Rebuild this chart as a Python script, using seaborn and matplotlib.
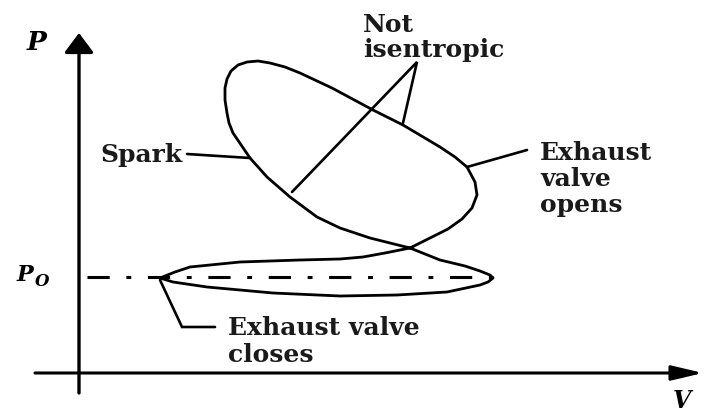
import matplotlib
matplotlib.use("Agg")
import matplotlib.pyplot as plt
import seaborn as sns
import pandas as pd

# Otto cycle P-V sketch (V, P in drawing units)
cycle_v = [81, 96, 111, 161, 221, 261, 284, 306, 331, 351, 369, 383, 393, 398, 396, 388,
           376, 361, 324, 294, 253, 221, 206, 191, 179, 168, 159, 152, 148, 146, 146, 148,
           150, 154, 171, 188, 211, 238, 261, 291, 331, 361, 386, 401, 411, 414, 409, 401,
           368, 318, 261, 194, 128, 94, 81]
cycle_p = [95, 101, 106, 111, 113, 114, 116, 120, 125, 135, 144, 154, 165, 178, 191, 206,
           216, 226, 248, 263, 285, 300, 306, 310, 312, 311, 308, 302, 294, 285, 273, 260,
           250, 240, 215, 196, 176, 156, 145, 135, 125, 113, 107, 102, 98, 95, 91, 88,
           81, 78, 77, 80, 86, 91, 95]

p0_level = 96
p0_v = [8, 414]

# leader lines
spark_v, spark_p = [108, 171], [219, 215]
isen_v, isen_p = [213, 338, 324], [181, 311, 250]
opens_v, opens_p = [388, 448], [206, 223]
closes_v, closes_p = [81, 103, 136], [93, 46, 46]

# annotation text: (lines, left V, baseline P of first line, line step)
notes = [
    (["Not", "isentropic"], 284, 341, 25),
    (["Exhaust", "valve", "opens"], 461, 213, 26),
    (["Exhaust valve", "closes"], 149, 38, 27),
]

sns.set_theme(style="white")
plt.rcParams["lines.scale_dashes"] = False

fig = plt.figure(figsize=(7.05, 4.12), dpi=100)
ax = fig.add_axes([0, 0, 1, 1])
ax.set_xlim(-79, 626)
ax.set_ylim(-39, 373)
ax.axis("off")

df = pd.DataFrame({"V": cycle_v, "P": cycle_p})
sns.lineplot(data=df, x="V", y="P", sort=False, estimator=None, color="black",
             lw=2.0, ax=ax)

ax.plot(p0_v, [p0_level, p0_level], color="black", lw=2.2,
        linestyle=(0, (16, 12, 3.5, 12)), dash_capstyle="butt")

for lv, lp in [(spark_v, spark_p), (isen_v, isen_p), (opens_v, opens_p), (closes_v, closes_p)]:
    ax.plot(lv, lp, color="black", lw=1.9, solid_joinstyle="miter")

# axes with arrows
ax.annotate("", xy=(0, 340), xytext=(0, -20),
            arrowprops=dict(arrowstyle="-|>,head_length=12,head_width=9", lw=2.4,
                            color="black", mutation_scale=1, shrinkA=0, shrinkB=0))
ax.annotate("", xy=(624, 0), xytext=(-44, 0),
            arrowprops=dict(arrowstyle="-|>,head_length=19,head_width=4.5", lw=2.2,
                            color="black", mutation_scale=1, shrinkA=0, shrinkB=0))

serif = "DejaVu Serif"
txt = dict(family=serif, fontweight="bold", fontsize=18, color="#1a1a1a")
ax.text(103, 218, "Spark", ha="right", va="center", **txt)
for lines, v0, p0, step in notes:
    for i, line in enumerate(lines):
        ax.text(v0, p0 - i * step, line, ha="left", va="baseline", **txt)

ital = dict(family=serif, fontweight="bold", fontstyle="italic", color="black")
ax.text(-42, 331, "P", ha="center", va="center", fontsize=19, **ital)
ax.text(594, -16, "V", ha="left", va="top", fontsize=17, **ital)
ax.text(-54, 98, "P", ha="center", va="center", fontsize=16, **ital)
ax.text(-37, 91, "O", ha="center", va="center", fontsize=12, **ital)

fig.savefig("out.png", dpi=100)
